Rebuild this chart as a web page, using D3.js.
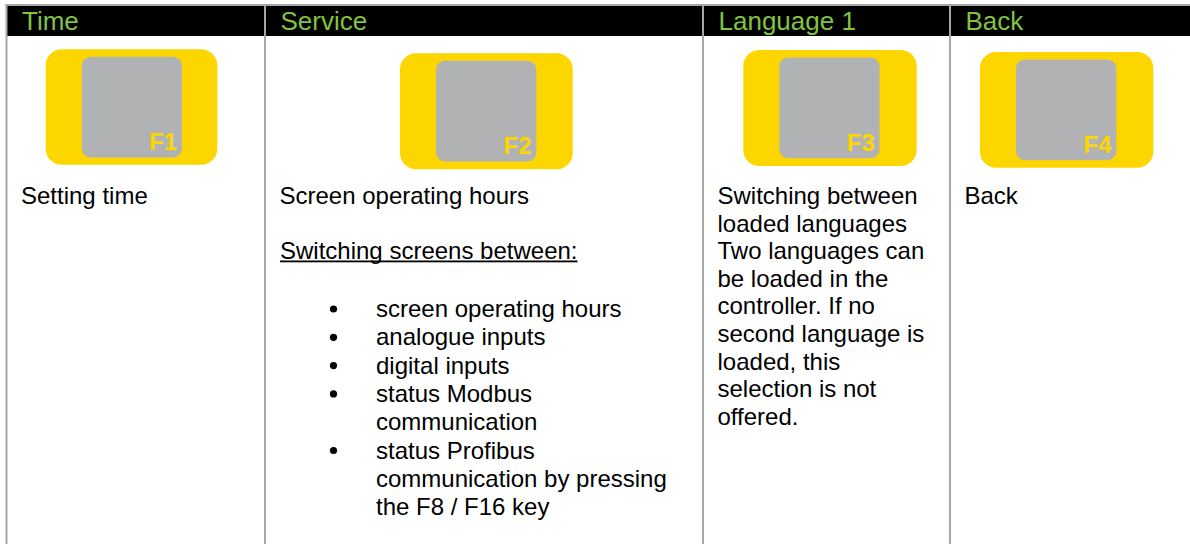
<!DOCTYPE html>
<html>
<head>
<meta charset="utf-8">
<script src="https://cdn.jsdelivr.net/npm/d3@7"></script>
<style>
  html, body { margin: 0; padding: 0; background: #fff; }
  svg { display: block; }
  text { font-family: "Liberation Sans", Arial, sans-serif; }
</style>
</head>
<body>
<svg id="chart" width="1190" height="544"></svg>
<script>
// ---------- data ----------
const headers = ["Time", "Service", "Language 1", "Back"];
const keyLabels = ["F1", "F2", "F3", "F4"];
const leadTexts = [
  ["Setting time"],
  ["Screen operating hours"],
  ["Switching between", "loaded languages", "Two languages can", "be loaded in the",
   "controller. If no", "second language is", "loaded, this", "selection is not", "offered."],
  ["Back"]
];
const subHeading = "Switching screens between:";
const bulletItems = [
  ["screen operating hours"],
  ["analogue inputs"],
  ["digital inputs"],
  ["status Modbus", "communication"],
  ["status Profibus", "communication by pressing", "the F8 / F16 key"]
];

// ---------- layout ----------
const W = 1190, H = 544;
const colEdges = [6.5, 265, 703, 950, W + 2];
const colX = d3.scaleOrdinal().domain(d3.range(4)).range(colEdges.slice(0, 4));
const borderCol = "#a7a7a7";
const yellow = "#fdd600";
const greyKey = "#b1b2b4";
const green = "#82c341";

const svg = d3.select("#chart");

// header band
svg.append("rect").attr("x", 6).attr("y", 5).attr("width", W - 6).attr("height", 31).attr("fill", "#000");

// header text
svg.selectAll("text.hdr").data(headers).join("text")
  .attr("class", "hdr")
  .attr("x", (d, i) => colX(i) + 15.5)
  .attr("y", 30)
  .attr("fill", green)
  .attr("font-size", 26)
  .text(d => d);

// keys (button graphics) – measured per column
const keyBoxes = [
  { x: 45.7, y: 49.3, w: 171.6, h: 115.4 },
  { x: 400, y: 53.3, w: 172.7, h: 116 },
  { x: 743.3, y: 50, w: 173.4, h: 116 },
  { x: 980, y: 52, w: 173.3, h: 115.7 }
];
const keys = svg.selectAll("g.key").data(keyLabels).join("g")
  .attr("class", "key")
  .attr("transform", (d, i) => `translate(${keyBoxes[i].x},${keyBoxes[i].y})`);
keys.append("rect")
  .attr("width", (d, i) => keyBoxes[i].w)
  .attr("height", (d, i) => keyBoxes[i].h)
  .attr("rx", 16).attr("ry", 16)
  .attr("fill", yellow);
keys.append("rect")
  .attr("x", 36).attr("y", 7.4)
  .attr("width", 100.3).attr("height", 100.8)
  .attr("rx", 9).attr("ry", 9)
  .attr("fill", greyKey);
keys.append("text")
  .attr("x", 131.5).attr("y", 100.7)
  .attr("text-anchor", "end")
  .attr("font-size", 24)
  .attr("font-weight", "bold")
  .attr("fill", yellow)
  .text(d => d);

// lead texts
const lineH = 27.6;
const leadG = svg.selectAll("g.lead").data(leadTexts).join("g")
  .attr("class", "lead");
leadG.selectAll("text").data((d, i) => d.map(t => ({ t, i }))).join("text")
  .attr("x", d => colX(d.i) + 14.5)
  .attr("y", (d, j) => 204 + j * lineH)
  .attr("font-size", 24)
  .attr("fill", "#000")
  .text(d => d.t);

// subheading underlined
const subT = svg.append("text")
  .attr("x", colX(1) + 15)
  .attr("y", 258.5)
  .attr("font-size", 24)
  .attr("fill", "#000")
  .text(subHeading);
const subLen = subT.node().getComputedTextLength();
svg.append("rect").attr("x", colX(1) + 15).attr("y", 260.5).attr("width", subLen).attr("height", 1.8).attr("fill", "#000");

// bullets
const bLine = 28.3;
let lineIdx = 0;
bulletItems.forEach(item => {
  const y0 = 317 + lineIdx * bLine;
  svg.append("circle").attr("cx", 333.5).attr("cy", y0 - 8).attr("r", 3.6).attr("fill", "#000");
  item.forEach((t, k) => {
    svg.append("text")
      .attr("x", 376)
      .attr("y", 317 + (lineIdx + k) * bLine)
      .attr("font-size", 24)
      .attr("fill", "#000")
      .text(t);
  });
  lineIdx += item.length;
});

// borders
svg.append("line").attr("x1", 5.5).attr("x2", W).attr("y1", 5).attr("y2", 5)
  .attr("stroke", borderCol).attr("stroke-width", 2);
svg.selectAll("line.vdiv").data(colEdges.slice(0, 4)).join("line")
  .attr("class", "vdiv")
  .attr("x1", d => d).attr("x2", d => d)
  .attr("y1", 4).attr("y2", H)
  .attr("stroke", borderCol).attr("stroke-width", 2);
</script>
</body>
</html>
